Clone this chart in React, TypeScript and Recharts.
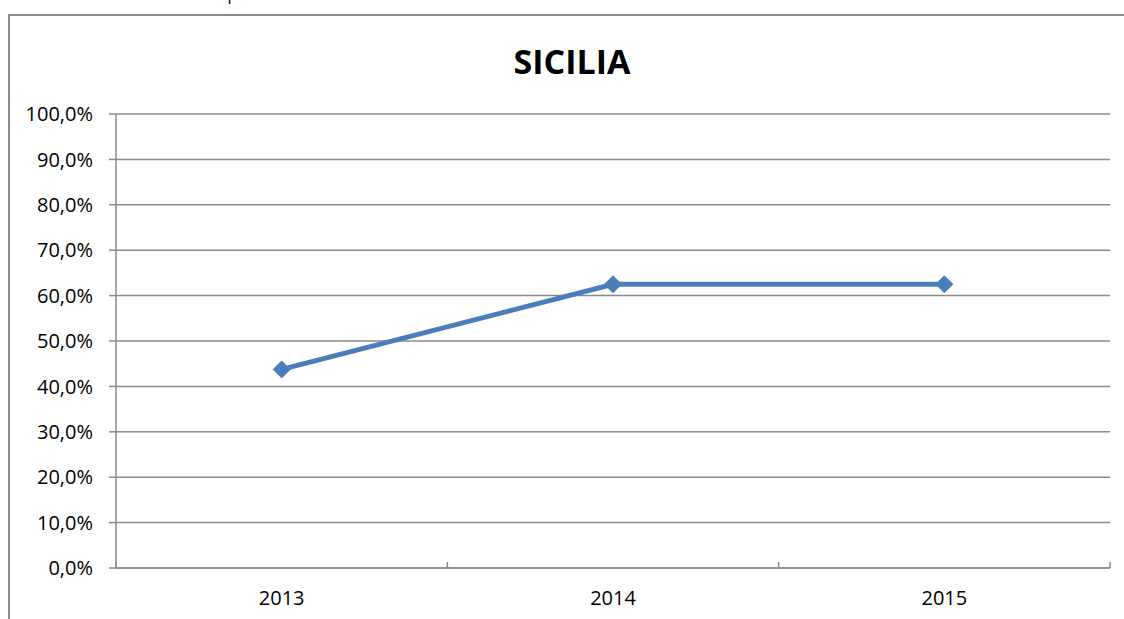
import { ComposedChart, Line, XAxis, YAxis, CartesianGrid } from 'recharts';

const years = ['2013', '2014', '2015'];
const shares = [0.4375, 0.625, 0.625];
const yTicks = [0, 0.1, 0.2, 0.3, 0.4, 0.5, 0.6, 0.7, 0.8, 0.9, 1];

const data = years.map((year, i) => ({ year, value: shares[i] }));

const W = 1124;
const H = 619;
const GRID = '#8a8a8a';
const BLUE = '#4a7ebb';
const FONT = '"Open Sans", "Noto Sans", sans-serif';

const pct = (v: number) => (v * 100).toFixed(1).replace('.', ',') + '%';

// diamond marker like the Excel default
const Diamond = (props: any) => {
  const { cx, cy } = props;
  if (cx == null || cy == null) return null;
  const r = 8.5;
  return (
    <polygon
      points={`${cx},${cy - r} ${cx + r},${cy} ${cx},${cy + r} ${cx - r},${cy}`}
      fill={BLUE}
      stroke={BLUE}
      strokeWidth={1}
    />
  );
};

// category label in the band centre, tick marks on the band edges
const YearTick = (props: any) => {
  const { x, y, payload, index, visibleTicksCount } = props;
  const half = payload?.offset ?? 0;
  const top = y - 6;
  const last = index === (visibleTicksCount ?? years.length) - 1;
  return (
    <g>
      <line x1={x - half} x2={x - half} y1={top - 6} y2={top} stroke={GRID} strokeWidth={1.5} />
      {last && <line x1={x + half} x2={x + half} y1={top - 6} y2={top} stroke={GRID} strokeWidth={1.5} />}
      <text x={x} y={y} dy={31} textAnchor="middle" fill="#000" fontSize={20} fontFamily={FONT}>
        {payload.value}
      </text>
    </g>
  );
};

export default function App() {
  return (
    <div style={{ position: 'absolute', left: 0, top: 0, width: W, height: H, background: '#fff', overflow: 'hidden' }}>
      {/* bottom of a caption cut off above the frame */}
      <svg width={W} height={10} style={{ position: 'absolute', left: 0, top: 0 }}>
        <text x={227} y={-1} fontSize={20} fontFamily={FONT} fill="#1f1f8c">p</text>
      </svg>
      <div
        style={{
          position: 'absolute',
          left: 8,
          top: 14,
          width: W,
          height: H,
          borderLeft: '2px solid #8c8c8c',
          borderTop: '2px solid #8c8c8c',
        }}
      />
      <div
        style={{
          position: 'absolute',
          left: 0,
          width: W,
          top: 38,
          textAlign: 'center',
          fontFamily: FONT,
          fontWeight: 700,
          fontSize: 34,
          lineHeight: '46px',
          color: '#000',
          paddingLeft: 20,
          boxSizing: 'border-box',
        }}
      >
        SICILIA
      </div>
      <ComposedChart
        width={W}
        height={H}
        data={data}
        margin={{ top: 114, right: 14, bottom: 0, left: 0 }}
        style={{ position: 'absolute', left: 0, top: 0 }}
      >
        <CartesianGrid vertical={false} stroke={GRID} strokeWidth={1.5} />
        <XAxis
          dataKey="year"
          scale="band"
          height={51}
          stroke={GRID}
          strokeWidth={1.5}
          tickLine={false}
          tickSize={6}
          tickMargin={0}
          tick={<YearTick />}
          interval={0}
        />
        <YAxis
          domain={[0, 1]}
          ticks={yTicks}
          width={116}
          stroke={GRID}
          strokeWidth={1.5}
          tickSize={7}
          tickMargin={16}
          tickFormatter={pct}
          tick={{ fill: '#000', fontSize: 20, fontFamily: FONT }}
          interval={0}
        />
        <Line
          dataKey="value"
          stroke={BLUE}
          strokeWidth={5}
          dot={<Diamond />}
          activeDot={false}
          isAnimationActive={false}
        />
      </ComposedChart>
    </div>
  );
}
